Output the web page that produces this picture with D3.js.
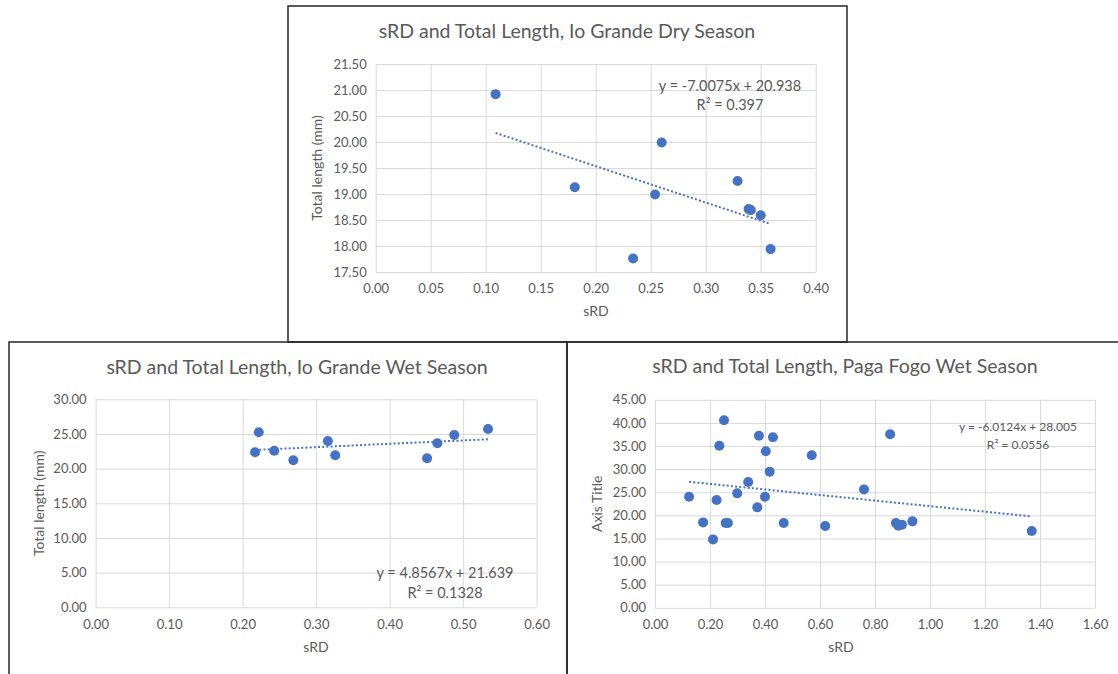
<!DOCTYPE html>
<html>
<head>
<meta charset="utf-8">
<script src="https://cdn.jsdelivr.net/npm/d3@7"></script>
<style>
  body { margin: 0; background: #fff; }
  text { font-family: Lato, "Open Sans", sans-serif; fill: #595959; }
</style>
</head>
<body>
<div id="charts"></div>
<script>
// ! sRD vs total length, three panels

// Io Grande dry season
var dry_srd    = [0.109, 0.181, 0.260, 0.254, 0.234, 0.329, 0.339, 0.341, 0.350, 0.359];
var dry_length = [20.92, 19.13, 19.99, 18.99, 17.76, 19.25, 18.71, 18.69, 18.59, 17.94];
var dry_x_ticks = [0, 0.05, 0.10, 0.15, 0.20, 0.25, 0.30, 0.35, 0.40];
var dry_y_ticks = [17.5, 18, 18.5, 19, 19.5, 20, 20.5, 21, 21.5];
var dry_trend = [-7.0075, 20.938];
var dry_labels = ["y = -7.0075x + 20.938", "R\u00B2 = 0.397"];

// Io Grande wet season
var wet_srd    = [0.222, 0.217, 0.243, 0.269, 0.316, 0.326, 0.451, 0.465, 0.488, 0.534];
var wet_length = [25.24, 22.36, 22.59, 21.20, 23.99, 21.92, 21.49, 23.65, 24.85, 25.72];
var wet_x_ticks = [0, 0.1, 0.2, 0.3, 0.4, 0.5, 0.6];
var wet_y_ticks = [0, 5, 10, 15, 20, 25, 30];
var wet_trend = [4.8567, 21.639];
var wet_labels = ["y = 4.8567x + 21.639", "R\u00B2 = 0.1328"];

// Paga Fogo wet season
var fogo_srd    = [0.251, 0.378, 0.429, 0.234, 0.403, 0.570, 0.855, 0.417, 0.339, 0.760,
                   0.124, 0.299, 0.400, 0.224, 0.372, 0.175, 0.257, 0.265, 0.468, 0.211,
                   0.619, 0.876, 0.885, 0.898, 0.936, 1.370];
var fogo_length = [40.56, 37.23, 36.88, 35.06, 33.85, 32.99, 37.53, 29.44, 27.21, 25.62,
                   24.03, 24.76, 24.03, 23.31, 21.73, 18.48, 18.35, 18.33, 18.33, 14.80,
                   17.68, 18.33, 17.75, 17.97, 18.70, 16.60];
var fogo_x_ticks = [0, 0.2, 0.4, 0.6, 0.8, 1.0, 1.2, 1.4, 1.6];
var fogo_y_ticks = [0, 5, 10, 15, 20, 25, 30, 35, 40, 45];
var fogo_trend = [-6.0124, 28.005];
var fogo_labels = ["y = -6.0124x + 28.005", "R\u00B2 = 0.0556"];

var svg = d3.select("#charts")
  .append("svg")
  .attr("width", 1118)
  .attr("height", 674);

svg.append("rect").attr("width", 1118).attr("height", 674).attr("fill", "#fff");

// panel frames
var frames = [
  { x: 288, y: 6, w: 559, h: 336 },
  { x: 9, y: 342, w: 558, h: 340 },
  { x: 567, y: 342, w: 560, h: 340 }
];
svg.selectAll("rect.frame")
  .data(frames)
  .enter()
  .append("rect")
  .attr("class", "frame")
  .attr("x", function(d) { return d.x; })
  .attr("y", function(d) { return d.y; })
  .attr("width", function(d) { return d.w; })
  .attr("height", function(d) { return d.h; })
  .attr("fill", "none")
  .attr("stroke", "#262626")
  .attr("stroke-width", 1.5);

function draw_scatter(c) {
  var g = svg.append("g");

  var x = d3.scaleLinear()
    .domain(d3.extent(c.xticks))
    .range([c.left, c.left + c.width]);
  var y = d3.scaleLinear()
    .domain(d3.extent(c.yticks))
    .range([c.top + c.height, c.top]);

  // gridlines
  g.append("g")
    .attr("transform", "translate(0," + (c.top + c.height) + ")")
    .call(d3.axisBottom(x).tickValues(c.xticks).tickSize(-c.height).tickFormat(d3.format(".2f")).tickPadding(12))
    .call(function(a) {
      a.select(".domain").remove();
      a.selectAll("line").attr("stroke", "#d9d9d9");
      a.selectAll("text").attr("fill", "#595959").style("font-size", "13px").style("font-family", "Lato");
    });

  g.append("g")
    .attr("transform", "translate(" + c.left + ",0)")
    .call(d3.axisLeft(y).tickValues(c.yticks).tickSize(-c.width).tickFormat(d3.format(".2f")).tickPadding(9))
    .call(function(a) {
      a.select(".domain").remove();
      a.selectAll("line").attr("stroke", "#d9d9d9");
      a.selectAll("text").attr("fill", "#595959").style("font-size", "13px").style("font-family", "Lato");
    });

  // trendline from the fitted equation across the data range
  var xr = d3.extent(c.xs);
  g.append("line")
    .attr("x1", x(xr[0]))
    .attr("y1", y(c.trend[0] * xr[0] + c.trend[1]))
    .attr("x2", x(xr[1]))
    .attr("y2", y(c.trend[0] * xr[1] + c.trend[1]))
    .attr("stroke", "#4472c4")
    .attr("stroke-width", 2)
    .style("stroke-dasharray", ("2, 2.2"));

  g.selectAll("circle")
    .data(c.xs)
    .enter()
    .append("circle")
    .attr("cx", function(d) { return x(d); })
    .attr("cy", function(d, i) { return y(c.ys[i]); })
    .attr("r", 5)
    .attr("fill", "#4472c4");

  g.append("text")
    .attr("x", c.titleX)
    .attr("y", c.titleY)
    .attr("text-anchor", "middle")
    .attr("dominant-baseline", "middle")
    .style("font-size", "19.5px")
    .text(c.title);

  g.append("text")
    .attr("transform", "translate(" + c.yTitleX + "," + (c.top + c.height / 2) + ") rotate(-90)")
    .attr("text-anchor", "middle")
    .attr("dominant-baseline", "middle")
    .style("font-size", "14px")
    .text(c.yTitle);

  g.append("text")
    .attr("x", c.xTitleX)
    .attr("y", c.xTitleY)
    .attr("text-anchor", "middle")
    .attr("dominant-baseline", "middle")
    .style("font-size", "14px")
    .text("sRD");

  g.selectAll("text.eq")
    .data(c.labels)
    .enter()
    .append("text")
    .attr("class", "eq")
    .attr("x", c.eqX)
    .attr("y", function(d, i) { return c.eqY + i * c.eqGap; })
    .attr("text-anchor", "middle")
    .attr("dominant-baseline", "middle")
    .style("font-size", c.eqSize + "px")
    .text(function(d) { return d; });
}

draw_scatter({
  xs: dry_srd, ys: dry_length, xticks: dry_x_ticks, yticks: dry_y_ticks,
  trend: dry_trend, labels: dry_labels,
  left: 375.7, top: 64, width: 440, height: 208,
  title: "sRD and Total Length, Io Grande Dry Season", titleX: 567, titleY: 33,
  yTitle: "Total length (mm)", yTitleX: 318, xTitleX: 596, xTitleY: 312,
  eqX: 730, eqY: 87, eqGap: 19.5, eqSize: 14.5
});

draw_scatter({
  xs: wet_srd, ys: wet_length, xticks: wet_x_ticks, yticks: wet_y_ticks,
  trend: wet_trend, labels: wet_labels,
  left: 95.6, top: 399.3, width: 441, height: 208,
  title: "sRD and Total Length, Io Grande Wet Season", titleX: 297, titleY: 369,
  yTitle: "Total length (mm)", yTitleX: 40, xTitleX: 316, xTitleY: 648,
  eqX: 445, eqY: 574, eqGap: 20, eqSize: 14.5
});

draw_scatter({
  xs: fogo_srd, ys: fogo_length, xticks: fogo_x_ticks, yticks: fogo_y_ticks,
  trend: fogo_trend, labels: fogo_labels,
  left: 655, top: 399.8, width: 440, height: 208,
  title: "sRD and Total Length, Paga Fogo Wet Season", titleX: 845, titleY: 368,
  yTitle: "Axis Title", yTitleX: 598, xTitleX: 841, xTitleY: 648,
  eqX: 1018, eqY: 428, eqGap: 17.5, eqSize: 12
});
</script>
</body>
</html>
